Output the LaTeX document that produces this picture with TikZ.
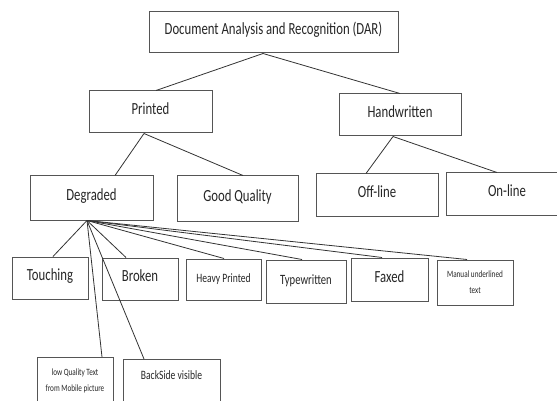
\documentclass[tikz,border=0pt]{standalone}
\usepackage{fontspec}
\setmainfont[FakeStretch=0.75]{Carlito}
\definecolor{linec}{HTML}{333333}
\definecolor{boxc}{HTML}{555555}
\begin{document}
\begin{tikzpicture}[x=1pt,y=-1pt,
  box/.style={draw=boxc, line width=1pt, inner sep=0pt, text=black!85,
    font=\fontsize{17}{19}\selectfont, text height=0.7em, text depth=0.2em},
  mbox/.style={draw=boxc, line width=1pt, inner sep=0pt, text=black!85, align=center},
  conn/.style={draw=linec, line width=0.8pt}]
\useasboundingbox (0,0) rectangle (557,401);
\clip (0,0) rectangle (557,401);

% level 0
\node[box, minimum width=249pt, minimum height=41pt] (dar) at (273.5,32.5) {Document Analysis and Recognition (DAR)\hspace{8pt}};
% level 1
\node[box, minimum width=123pt, minimum height=42pt] (printed) at (150.5,112) {Printed};
\node[box, minimum width=122pt, minimum height=42pt] (hand) at (400,115) {Handwritten};
% level 2
\node[box, minimum width=123pt, minimum height=44pt] (deg) at (91.5,198) {Degraded};
\node[box, minimum width=121pt, minimum height=45pt] (good) at (237.5,198.5) {Good Quality};
\node[box, minimum width=122pt, minimum height=42pt] (off) at (377,195) {Off-line};
\node[box, minimum width=122pt, minimum height=42pt] (on) at (507,194) {On-line};
% level 3
\node[box, minimum width=76pt, minimum height=42pt] (touch) at (50,278) {Touching};
\node[box, minimum width=76pt, minimum height=42pt] (broken) at (140,279) {Broken};
\node[box, minimum width=75pt, minimum height=41pt, font=\fontsize{12.75}{14}\selectfont] (heavy) at (223.5,279.5) {Heavy Printed};
\node[box, minimum width=80pt, minimum height=43pt, font=\fontsize{14.2}{16}\selectfont] (type) at (306,281.5) {Typewritten};
\node[box, minimum width=77pt, minimum height=43pt] (faxed) at (389.5,279.5) {Faxed};
\node[mbox, minimum width=76pt, minimum height=45pt, font=\fontsize{9.6}{16}\selectfont] (manual) at (475,282.5) {Manual underlined\\text};
% level 4 (cut by the lower edge)
\node[mbox, anchor=north, minimum width=76pt, minimum height=46pt, font=\fontsize{9.6}{16}\selectfont] (lowq) at (75,357) {low Quality Text\\from Mobile picture};
\node[box, anchor=north, minimum width=97pt, font=\fontsize{12.75}{14}\selectfont, text height=19.8pt, text depth=40pt] (back) at (171.5,359) {BackSide visible};

% connectors
\draw[conn] ([xshift=-10.5pt]dar.south) -- ([xshift=5.5pt]printed.north);
\draw[conn] ([xshift=-10.5pt]dar.south) -- (hand.north);
\draw[conn] ([xshift=-6.5pt]printed.south) -- ([xshift=23.5pt]deg.north);
\draw[conn] ([xshift=-6.5pt]printed.south) -- ([xshift=5.5pt]good.north);
\draw[conn] ([xshift=-7pt]hand.south) -- ([xshift=-11pt]off.north);
\draw[conn] ([xshift=-7pt]hand.south) -- ([xshift=-10pt]on.north);
\draw[conn] ([xshift=-4.5pt]deg.south) -- ([xshift=3pt]touch.north);
\draw[conn] ([xshift=-4.5pt]deg.south) -- ([xshift=-14pt]broken.north);
\draw[conn] ([xshift=-4.5pt]deg.south) -- ([xshift=0.5pt]heavy.north);
\draw[conn] ([xshift=-4.5pt]deg.south) -- ([xshift=-4pt]type.north);
\draw[conn] ([xshift=-4.5pt]deg.south) -- ([xshift=-7.5pt]faxed.north);
\draw[conn] ([xshift=-4.5pt]deg.south) -- ([xshift=-8pt]manual.north);
\draw[conn] ([xshift=-4.5pt]deg.south) -- ([xshift=27pt]lowq.north);
\draw[conn] ([xshift=-4.5pt]deg.south) -- ([xshift=-27.5pt]back.north);
\end{tikzpicture}
\end{document}
